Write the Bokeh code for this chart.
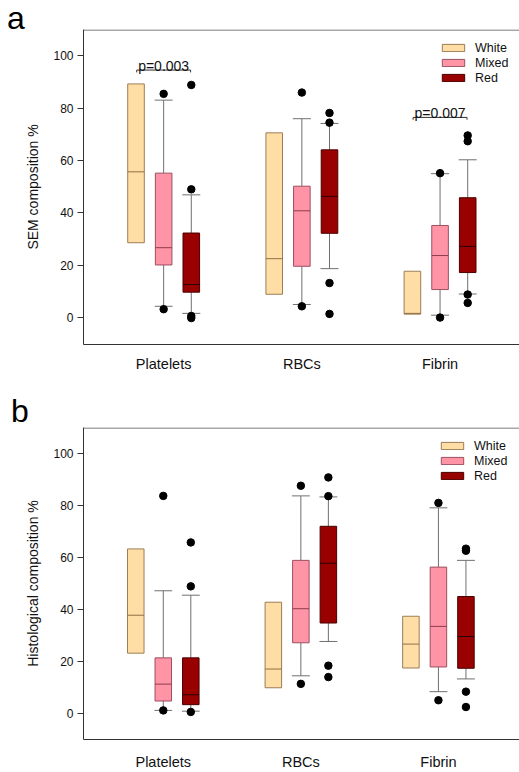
from bokeh.plotting import figure
from bokeh.models import Range1d, FixedTicker, Legend, LegendItem, Span, Div
from bokeh.layouts import column
from bokeh.embed import file_html
from bokeh.resources import INLINE
from bokeh.core.properties import value

categories = ["Platelets", "RBCs", "Fibrin"]
groups = ["White", "Mixed", "Red"]
y_ticks = [0, 20, 40, 60, 80, 100]

# ---- panel a: SEM composition %
sem_white_q3 = [89.3, 70.6, 17.7]
sem_white_med = [55.7, 22.5, 1.6]
sem_white_q1 = [28.6, 8.9, 1.3]

sem_mixed_q3 = [55.2, 50.2, 35.2]
sem_mixed_med = [26.7, 40.8, 23.7]
sem_mixed_q1 = [20.1, 19.6, 10.7]
sem_mixed_hi = [83.1, 76.0, 55.0]
sem_mixed_lo = [4.3, 5.0, 0.9]
sem_mixed_out = [[85.5, 3.2], [86.0, 4.3], [55.2, 0.0]]

sem_red_q3 = [32.3, 64.1, 45.8]
sem_red_med = [12.6, 46.3, 27.2]
sem_red_q1 = [9.7, 32.2, 17.2]
sem_red_hi = [46.9, 74.2, 60.3]
sem_red_lo = [1.6, 18.7, 9.0]
sem_red_out = [[88.9, 49.0, 0.6, -0.2], [78.2, 74.5, 13.2, 1.4], [69.6, 67.4, 8.8, 5.6]]

sem_p_labels = ["p=0.003", "p=0.007"]
sem_p_cat = [1, 3]
sem_p_y = [94.6, 76.5]

# ---- panel b: Histological composition %
hist_white_q3 = [63.2, 42.7, 37.3]
hist_white_med = [37.7, 17.0, 26.6]
hist_white_q1 = [23.1, 9.8, 17.4]

hist_mixed_q3 = [21.3, 58.8, 56.2]
hist_mixed_med = [11.2, 40.2, 33.4]
hist_mixed_q1 = [4.7, 27.1, 17.8]
hist_mixed_hi = [47.1, 83.6, 79.0]
hist_mixed_lo = [1.1, 14.4, 8.3]
hist_mixed_out = [[83.6, 1.1], [87.5, 11.3], [80.9, 5.0]]

hist_red_q3 = [21.3, 71.9, 44.9]
hist_red_med = [7.1, 57.7, 29.5]
hist_red_q1 = [3.3, 34.7, 17.3]
hist_red_hi = [45.4, 83.2, 58.8]
hist_red_lo = [0.8, 27.6, 13.2]
hist_red_out = [[65.7, 48.8, 0.5], [90.7, 83.5, 18.3, 13.9], [63.3, 62.5, 8.3, 2.4]]

hist_p_labels = []
hist_p_cat = []
hist_p_y = []

# ---- style
FONT = "Liberation Sans"
W = 519
OFFS = [-0.2, 0.0, 0.2]
BOX_W = 0.12
CAP_W = 0.13
FILLS = ["#FFDEA6", "#FF94A6", "#990000"]
EDGES = ["#9b7d55", "#9a5060", "#4a0000"]
MEDS = ["#8f6f45", "#8e3c4c", "#2a0000"]
WHISK = "#707070"
AXC = "#333333"
PX_PER_CAT = 138.2


def letter_strip(height, letter, indent, line_h):
    return Div(text=letter, width=W, height=height,
               styles={"font-family": FONT + ", Arial, sans-serif", "font-size": "32px",
                       "line-height": f"{line_h}px", "text-indent": f"{indent}px",
                       "color": "#000000", "margin": "0", "padding": "0",
                       "overflow": "visible"})


def make_panel(height, b_bottom, b_left, yr, top_line, ylabel,
               stats, p_labels, p_cat, p_y, legend_loc, x_standoff):
    xpos = [1, 2, 3]
    frame_w = W - b_left
    p = figure(width=W, height=height,
               x_range=Range1d(0.42, 0.42 + frame_w / PX_PER_CAT),
               y_range=Range1d(*yr),
               output_backend="svg", toolbar_location=None,
               min_border_left=b_left, min_border_right=0,
               min_border_top=0, min_border_bottom=b_bottom)
    p.outline_line_color = None
    p.grid.visible = False
    p.background_fill_color = "white"

    xa = p.xaxis[0]
    xa.ticker = FixedTicker(ticks=xpos)
    xa.major_label_overrides = {i + 1: c for i, c in enumerate(categories)}
    xa.major_tick_line_color = None
    xa.minor_tick_line_color = None
    xa.axis_line_color = AXC
    xa.major_label_text_font = FONT
    xa.major_label_text_font_size = "14.5px"
    xa.major_label_text_color = "#111111"
    xa.major_label_standoff = x_standoff

    ya = p.yaxis[0]
    ya.ticker = FixedTicker(ticks=y_ticks)
    ya.minor_tick_line_color = None
    ya.major_tick_out = 6
    ya.major_tick_in = 0
    ya.major_tick_line_color = AXC
    ya.axis_line_color = AXC
    ya.major_label_text_font = FONT
    ya.major_label_text_font_size = "12px"
    ya.major_label_text_color = "#111111"
    ya.major_label_standoff = 4
    ya.axis_label = ylabel
    ya.axis_label_text_font = FONT
    ya.axis_label_text_font_size = "14px"
    ya.axis_label_text_font_style = "normal"
    ya.axis_label_text_color = "#111111"
    ya.axis_label_standoff = 9

    # top frame line
    p.add_layout(Span(location=top_line, dimension="width", line_color="#555555", line_width=1))

    items = []
    for gi, (q1, med, q3, hi, lo, out) in enumerate(stats):
        x = [c + OFFS[gi] for c in xpos]
        if hi is not None:
            p.segment(x0=x, y0=q3, x1=x, y1=hi, line_color=WHISK, line_width=1)
            p.segment(x0=x, y0=q1, x1=x, y1=lo, line_color=WHISK, line_width=1)
            p.segment(x0=[v - CAP_W / 2 for v in x], y0=hi,
                      x1=[v + CAP_W / 2 for v in x], y1=hi, line_color=WHISK, line_width=1)
            p.segment(x0=[v - CAP_W / 2 for v in x], y0=lo,
                      x1=[v + CAP_W / 2 for v in x], y1=lo, line_color=WHISK, line_width=1)
        r = p.vbar(x=x, width=BOX_W, top=q3, bottom=q1,
                   fill_color=FILLS[gi], line_color=EDGES[gi], line_width=1)
        p.segment(x0=[v - BOX_W / 2 for v in x], y0=med,
                  x1=[v + BOX_W / 2 for v in x], y1=med, line_color=MEDS[gi], line_width=1)
        if out is not None:
            ox, oy = [], []
            for xi, vals in zip(x, out):
                for v in vals:
                    ox.append(xi)
                    oy.append(v)
            p.scatter(ox, oy, size=7.5, color="black")
        items.append(LegendItem(label=groups[gi], renderers=[r]))

    if p_labels:
        xs, ys = [], []
        for c, yv in zip(p_cat, p_y):
            xs.append([c - 0.195, c - 0.195, c + 0.195, c + 0.195])
            ys.append([yv - 0.9, yv, yv, yv - 0.9])
        p.multi_line(xs=xs, ys=ys, line_color="#333333", line_width=1)
        p.text(x=p_cat, y=[v + 1.7 for v in p_y], text=p_labels,
               text_font=value(FONT), text_font_size="14px", text_color="#111111",
               text_align="center", text_baseline="alphabetic")

    legend = Legend(items=items, location=legend_loc, glyph_width=28, glyph_height=9,
                    label_height=15, spacing=0, padding=0, margin=0, label_standoff=8,
                    label_text_font=FONT, label_text_font_size="12.5px",
                    label_text_color="#111111",
                    border_line_color=None, background_fill_alpha=0)
    p.add_layout(legend)
    return p


sem_stats = [
    (sem_white_q1, sem_white_med, sem_white_q3, None, None, None),
    (sem_mixed_q1, sem_mixed_med, sem_mixed_q3, sem_mixed_hi, sem_mixed_lo, sem_mixed_out),
    (sem_red_q1, sem_red_med, sem_red_q3, sem_red_hi, sem_red_lo, sem_red_out),
]
hist_stats = [
    (hist_white_q1, hist_white_med, hist_white_q3, None, None, None),
    (hist_mixed_q1, hist_mixed_med, hist_mixed_q3, hist_mixed_hi, hist_mixed_lo, hist_mixed_out),
    (hist_red_q1, hist_red_med, hist_red_q3, hist_red_hi, hist_red_lo, hist_red_out),
]

s1 = letter_strip(29, "a", 7, 36)
p1 = make_panel(359, 44, 83, (-10.3, 110.1), 109.9, "SEM composition %",
                sem_stats, sem_p_labels, sem_p_cat, sem_p_y, (356, 259), 5)
s2 = letter_strip(39, "b", 11, 46)
p2 = make_panel(345, 31, 81, (-10.1, 109.9), 109.7, "Histological composition %",
                hist_stats, hist_p_labels, hist_p_cat, hist_p_y, (355, 256), 8)

layout = column(s1, p1, s2, p2, spacing=0)
open("out.html", "w").write(file_html(layout, INLINE))
